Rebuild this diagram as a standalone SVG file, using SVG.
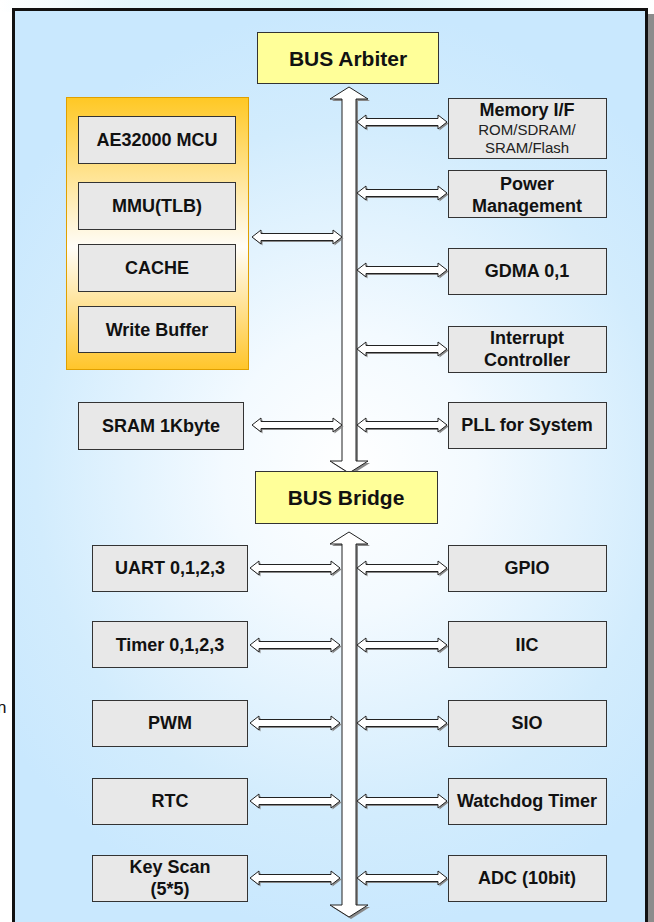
<svg xmlns="http://www.w3.org/2000/svg" width="654" height="922" viewBox="0 0 654 922">
<defs>
<radialGradient id="bg" gradientUnits="userSpaceOnUse" cx="350" cy="470" r="420" gradientTransform="translate(350 470) scale(1 1.1) translate(-350 -470)">
<stop offset="0" stop-color="#ffffff"/>
<stop offset="0.3" stop-color="#f3faff"/>
<stop offset="0.75" stop-color="#d2ecfd"/>
<stop offset="1" stop-color="#c9e8fe"/>
</radialGradient>
<linearGradient id="mcu" x1="0" y1="0" x2="0" y2="1">
<stop offset="0" stop-color="#ffc824"/>
<stop offset="0.55" stop-color="#fffdf8"/>
<stop offset="1" stop-color="#ffc52a"/>
</linearGradient>
<linearGradient id="topstrip" x1="0" y1="0" x2="1" y2="0">
<stop offset="0" stop-color="#ffffff"/>
<stop offset="0.2" stop-color="#e4f6fb"/>
<stop offset="0.5" stop-color="#d6f2fa"/>
<stop offset="0.8" stop-color="#eef9fd"/>
<stop offset="1" stop-color="#ffffff"/>
</linearGradient>
<path id="ha" d="M0,0 L9,-7 L9,-3.5 L81,-3.5 L81,-7 L90,0 L81,7 L81,3.5 L9,3.5 L9,7 Z"/>
<style>
.box{fill:#e8e8e8;stroke:#333;stroke-width:1}
.bus{fill:#ffff99;stroke:#333;stroke-width:1}
.t{font-family:"Liberation Sans",Arial,sans-serif;font-weight:bold;font-size:18px;fill:#111;text-anchor:middle;dominant-baseline:central}
.tb{font-size:21px}
.ts{font-family:"Liberation Sans",Arial,sans-serif;font-size:15px;fill:#222;text-anchor:middle;dominant-baseline:central}
.ar{fill:#fff;stroke:#222;stroke-width:1}
.as{fill:#888}
</style>
</defs>
<rect x="0" y="0" width="654" height="922" fill="#fff"/>
<rect x="0" y="0" width="654" height="12" fill="url(#topstrip)"/>
<rect x="648" y="14" width="6" height="908" fill="#8c8c8c"/>
<rect x="13.5" y="9.5" width="633" height="920" fill="url(#bg)" stroke="#111" stroke-width="3"/>
<text x="-3" y="707" style="font-family:'Liberation Sans',Arial,sans-serif;font-size:17px;fill:#111;dominant-baseline:central">n</text>

<g id="connectors">
<path class="as" transform="translate(2 2)" d="M349,87 L368,99 L356,99 L356,461 L368,461 L349,473 L330,461 L342,461 L342,99 L330,99 Z"/>
<path class="ar" d="M349,87 L368,99 L356,99 L356,461 L368,461 L349,473 L330,461 L342,461 L342,99 L330,99 Z"/>
<path class="as" transform="translate(2 2)" d="M349,532 L368,544 L356,544 L356,905 L368,905 L349,917 L330,905 L342,905 L342,544 L330,544 Z"/>
<path class="ar" d="M349,532 L368,544 L356,544 L356,905 L368,905 L349,917 L330,905 L342,905 L342,544 L330,544 Z"/>
<g class="as">
<use href="#ha" transform="translate(253.5 238.5)"/>
<use href="#ha" transform="translate(253.5 426.5)"/>
<use href="#ha" transform="translate(358.5 123.5)"/>
<use href="#ha" transform="translate(358.5 194.5)"/>
<use href="#ha" transform="translate(358.5 271.5)"/>
<use href="#ha" transform="translate(358.5 350.5)"/>
<use href="#ha" transform="translate(358.5 426.5)"/>
<use href="#ha" transform="translate(251.5 569.5)"/>
<use href="#ha" transform="translate(251.5 646.5)"/>
<use href="#ha" transform="translate(251.5 724.5)"/>
<use href="#ha" transform="translate(251.5 802.5)"/>
<use href="#ha" transform="translate(251.5 879.5)"/>
<use href="#ha" transform="translate(358.5 569.5)"/>
<use href="#ha" transform="translate(358.5 646.5)"/>
<use href="#ha" transform="translate(358.5 724.5)"/>
<use href="#ha" transform="translate(358.5 802.5)"/>
<use href="#ha" transform="translate(358.5 879.5)"/>
</g>
<g class="ar">
<use href="#ha" transform="translate(252 237)"/>
<use href="#ha" transform="translate(252 425)"/>
<use href="#ha" transform="translate(357 122)"/>
<use href="#ha" transform="translate(357 193)"/>
<use href="#ha" transform="translate(357 270)"/>
<use href="#ha" transform="translate(357 349)"/>
<use href="#ha" transform="translate(357 425)"/>
<use href="#ha" transform="translate(250 568)"/>
<use href="#ha" transform="translate(250 645)"/>
<use href="#ha" transform="translate(250 723)"/>
<use href="#ha" transform="translate(250 801)"/>
<use href="#ha" transform="translate(250 878)"/>
<use href="#ha" transform="translate(357 568)"/>
<use href="#ha" transform="translate(357 645)"/>
<use href="#ha" transform="translate(357 723)"/>
<use href="#ha" transform="translate(357 801)"/>
<use href="#ha" transform="translate(357 878)"/>
</g>
</g>

<g id="bus-arbiter">
<rect class="bus" x="257.5" y="32.5" width="181" height="51"/>
<text class="t tb" x="348" y="58">BUS Arbiter</text>
</g>
<g id="mcu">
<rect x="66.5" y="97.5" width="182" height="272" fill="url(#mcu)" stroke="#e0a000" stroke-width="1"/>
<g id="ae32000">
<rect class="box" x="78.5" y="116.5" width="157" height="47"/>
<text class="t" x="157" y="140">AE32000 MCU</text>
</g>
<g id="mmu">
<rect class="box" x="78.5" y="182.5" width="157" height="47"/>
<text class="t" x="157" y="206">MMU(TLB)</text>
</g>
<g id="cache">
<rect class="box" x="78.5" y="244.5" width="157" height="47"/>
<text class="t" x="157" y="268">CACHE</text>
</g>
<g id="write-buffer">
<rect class="box" x="78.5" y="306.5" width="157" height="46"/>
<text class="t" x="157" y="330">Write Buffer</text>
</g>
</g>
<g id="sram">
<rect class="box" x="78.5" y="402.5" width="165" height="47"/>
<text class="t" x="161" y="426">SRAM 1Kbyte</text>
</g>
<g id="memory-if">
<rect class="box" x="448.5" y="98.5" width="158" height="60"/>
<text class="t" x="527" y="110">Memory I/F</text>
<text class="ts" x="527" y="129">ROM/SDRAM/</text>
<text class="ts" x="527" y="147">SRAM/Flash</text>
</g>
<g id="power">
<rect class="box" x="448.5" y="170.5" width="158" height="47"/>
<text class="t" x="527" y="184">Power</text>
<text class="t" x="527" y="206">Management</text>
</g>
<g id="gdma">
<rect class="box" x="448.5" y="248.5" width="158" height="46"/>
<text class="t" x="527" y="271">GDMA 0,1</text>
</g>
<g id="interrupt">
<rect class="box" x="448.5" y="326.5" width="158" height="46"/>
<text class="t" x="527" y="338">Interrupt</text>
<text class="t" x="527" y="360">Controller</text>
</g>
<g id="pll">
<rect class="box" x="448.5" y="402.5" width="158" height="46"/>
<text class="t" x="527" y="425">PLL for System</text>
</g>
<g id="bus-bridge">
<rect class="bus" x="255.5" y="471.5" width="182" height="52"/>
<text class="t tb" x="346" y="497">BUS Bridge</text>
</g>
<g id="uart">
<rect class="box" x="92.5" y="545.5" width="155" height="46"/>
<text class="t" x="170" y="568">UART 0,1,2,3</text>
</g>
<g id="timer">
<rect class="box" x="92.5" y="621.5" width="155" height="46"/>
<text class="t" x="170" y="645">Timer 0,1,2,3</text>
</g>
<g id="pwm">
<rect class="box" x="92.5" y="700.5" width="155" height="46"/>
<text class="t" x="170" y="723">PWM</text>
</g>
<g id="rtc">
<rect class="box" x="92.5" y="778.5" width="155" height="46"/>
<text class="t" x="170" y="801">RTC</text>
</g>
<g id="keyscan">
<rect class="box" x="92.5" y="855.5" width="155" height="46"/>
<text class="t" x="170" y="867">Key Scan</text>
<text class="t" x="170" y="889">(5*5)</text>
</g>
<g id="gpio">
<rect class="box" x="448.5" y="545.5" width="158" height="46"/>
<text class="t" x="527" y="568">GPIO</text>
</g>
<g id="iic">
<rect class="box" x="448.5" y="621.5" width="158" height="46"/>
<text class="t" x="527" y="645">IIC</text>
</g>
<g id="sio">
<rect class="box" x="448.5" y="700.5" width="158" height="46"/>
<text class="t" x="527" y="723">SIO</text>
</g>
<g id="watchdog">
<rect class="box" x="448.5" y="778.5" width="158" height="46"/>
<text class="t" x="527" y="801">Watchdog Timer</text>
</g>
<g id="adc">
<rect class="box" x="448.5" y="855.5" width="158" height="46"/>
<text class="t" x="527" y="878">ADC (10bit)</text>
</g>
</svg>
